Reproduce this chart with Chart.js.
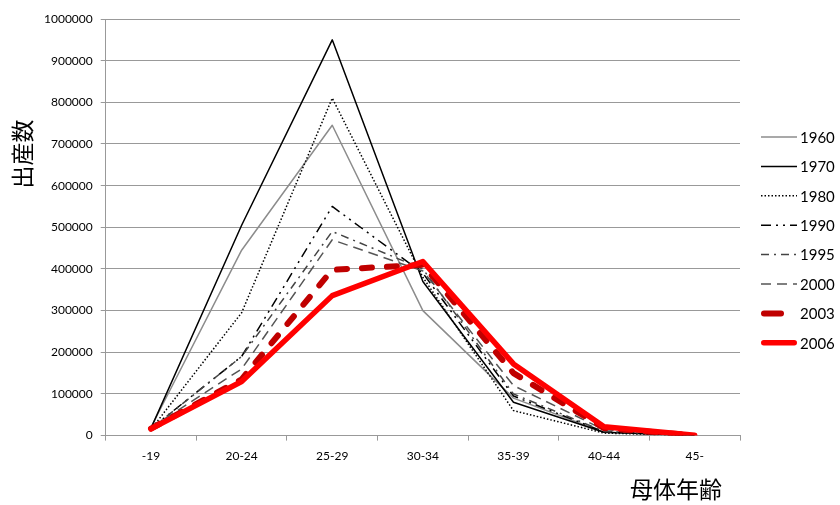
<!DOCTYPE html>
<html>
<head>
<meta charset="utf-8">
<script src="https://cdn.jsdelivr.net/npm/chart.js@4"></script>
<style>
  body { margin: 0; background: #fff; }
  #wrap { width: 840px; height: 505px; }
</style>
</head>
<body>
<div id="wrap"><canvas id="myChart"></canvas></div>
<script>
/* Data section */
var ageLabels = ["-19", "20-24", "25-29", "30-34", "35-39", "40-44", "45-"];
var yearLabels = ["1960", "1970", "1980", "1990", "1995", "2000", "2003", "2006"];

var births1960 = [20000, 445000, 745000, 300000, 90000, 8000, 300];
var births1970 = [18000, 505000, 950000, 370000, 80000, 8000, 500];
var births1980 = [15000, 295000, 810000, 380000, 60000, 6000, 300];
var births1990 = [17000, 190000, 550000, 390000, 95000, 9000, 500];
var births1995 = [16000, 190000, 490000, 400000, 100000, 10000, 500];
var births2000 = [19000, 160000, 470000, 395000, 120000, 14000, 500];
var births2003 = [17000, 135000, 398000, 410000, 150000, 18000, 700];
var births2006 = [16000, 130000, 336000, 418000, 172000, 21000, 700];

var yTicks = [0, 100000, 200000, 300000, 400000, 500000, 600000, 700000, 800000, 900000, 1000000];

/* Chart section */
var styles = [
    { color: "#8c8c8c", width: 1.5, dash: [] },
    { color: "#000000", width: 1.5, dash: [] },
    { color: "#000000", width: 1.5, dash: [1.5, 2] },
    { color: "#000000", width: 1.5, dash: [10, 5, 2, 5, 2, 5] },
    { color: "#444444", width: 1.5, dash: [8, 5, 2, 5] },
    { color: "#555555", width: 1.5, dash: [10, 6] },
    { color: "#c00000", width: 6, dash: [10, 15], cap: "round", legendDash: [17, 40] },
    { color: "#ff0000", width: 5.5, dash: [], cap: "round" }
];
var seriesData = [births1960, births1970, births1980, births1990, births1995, births2000, births2003, births2006];

var datasets = seriesData.map(function (d, i) {
    return {
        label: yearLabels[i],
        data: d,
        borderColor: styles[i].color,
        backgroundColor: styles[i].color,
        borderWidth: styles[i].width,
        borderDash: styles[i].dash,
        borderCapStyle: styles[i].cap || "butt",
        borderJoinStyle: "round",
        pointRadius: 0,
        tension: 0,
        fill: false,
        order: seriesData.length - i   // later years drawn on top
    };
});

// axis titles + legend drawn where the original has them
var extras = {
    id: 'extras',
    afterDraw: function (chart) {
        var c = chart.ctx;
        c.save();
        c.fillStyle = "#000";
        c.font = '23px "Noto Sans CJK JP"';
        c.textAlign = "center";
        c.textBaseline = "middle";
        c.translate(22, 154);
        c.rotate(-Math.PI / 2);
        c.fillText("出産数", 0, 0);
        c.restore();

        c.save();
        c.fillStyle = "#000";
        c.font = '23px "Noto Sans CJK JP"';
        c.textAlign = "center";
        c.textBaseline = "middle";
        c.fillText("母体年齢", 676, 489);
        c.restore();

        // legend
        chart.data.datasets.forEach(function (ds, i) {
            var y = 137 + i * 29.4;
            var st = styles[i];
            c.save();
            c.strokeStyle = ds.borderColor;
            c.lineWidth = ds.borderWidth;
            c.lineCap = ds.borderCapStyle;
            c.setLineDash(st.legendDash || ds.borderDash);
            var x0 = 761, x1 = 797;
            if (ds.borderCapStyle === "round") { x0 += ds.borderWidth / 2; x1 -= ds.borderWidth / 2; }
            c.beginPath();
            c.moveTo(x0, y);
            c.lineTo(x1, y);
            c.stroke();
            c.setLineDash([]);
            c.fillStyle = "#000";
            c.font = '15px Lato';
            c.textAlign = "left";
            c.textBaseline = "middle";
            c.fillText(ds.label, 800, y + 1);
            c.restore();
        });
    }
};

var ctx = document.getElementById('myChart').getContext('2d');
var myChart = new Chart(ctx, {
    type: 'line',
    data: {
        labels: ageLabels,
        datasets: datasets
    },
    options: {
        responsive: true,
        maintainAspectRatio: false,
        animation: false,
        layout: { padding: { left: 36, top: 19, bottom: 34, right: 100 } },
        plugins: {
            tooltip: { enabled: false },
            legend: { display: false }
        },
        scales: {
            x: {
                offset: true,
                grid: { offset: true, drawOnChartArea: false, drawTicks: true, tickLength: 5, color: "#999" },
                border: { color: "#999" },
                ticks: { color: "#000", font: { family: "Lato", size: 12 }, padding: 8, maxRotation: 0 }
            },
            y: {
                min: 0,
                max: 1000000,
                afterBuildTicks: function (axis) {
                    axis.ticks = yTicks.map(function (v) { return { value: v }; });
                },
                grid: { color: "#999", tickLength: 5 },
                border: { color: "#999" },
                ticks: {
                    color: "#000",
                    font: { family: "Lato", size: 12 },
                    padding: 8,
                    callback: function (v) { return String(v); }
                }
            }
        }
    },
    plugins: [extras]
});
</script>
</body>
</html>
